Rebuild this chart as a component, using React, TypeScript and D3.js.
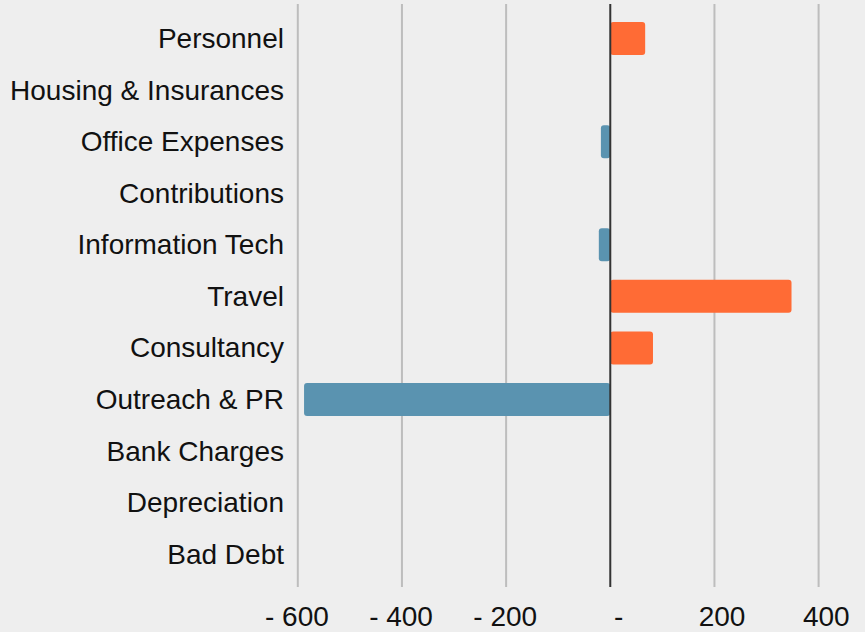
import React from "react";
import * as d3 from "d3";

const categories = [
  "Personnel",
  "Housing & Insurances",
  "Office Expenses",
  "Contributions",
  "Information Tech",
  "Travel",
  "Consultancy",
  "Outreach & PR",
  "Bank Charges",
  "Depreciation",
  "Bad Debt",
];
const values = [67, 0, -18, 0, -22, 348, 82, -588, 0, 0, 0];
const tickValues = [-600, -400, -200, 0, 200, 400];

const W = 865;
const H = 632;
const POS = "#FF6B35";
const NEG = "#5A93B0";
const FS = 28;

function fmt(v: number) {
  if (v === 0) return "-";
  if (v < 0) return "- " + Math.abs(v);
  return String(v);
}

export default function App() {
  const x = d3.scaleLinear().domain([-600, 400]).range([297.8, 818.6]);
  const y = d3
    .scaleBand<string>()
    .domain(categories)
    .range([12.7, 580])
    .paddingInner(0.36)
    .paddingOuter(0.18);
  const font = "Arial, 'Liberation Sans', sans-serif";
  return (
    <svg
      width={W}
      height={H}
      style={{ position: "absolute", left: 0, top: 0, background: "#EEEEEE" }}
    >
      <rect x={0} y={0} width={W} height={H} fill="#EEEEEE" />
      {tickValues
        .filter((t) => t !== 0)
        .map((t) => (
          <line
            key={t}
            x1={x(t)}
            x2={x(t)}
            y1={4}
            y2={587}
            stroke="#BDBDBD"
            strokeWidth={2}
          />
        ))}
      {categories.map((c, i) => {
        const v = values[i];
        if (v === 0) return null;
        const x0 = Math.min(x(0), x(v));
        const w = Math.abs(x(v) - x(0));
        return (
          <rect
            key={c}
            x={x0}
            y={y(c)}
            width={w}
            height={y.bandwidth()}
            rx={3}
            ry={3}
            fill={v > 0 ? POS : NEG}
          />
        );
      })}
      <line
        x1={x(0)}
        x2={x(0)}
        y1={4}
        y2={587}
        stroke="#333333"
        strokeWidth={2}
      />
      {categories.map((c) => (
        <text
          key={c}
          x={284}
          y={(y(c) as number) + y.bandwidth() / 2 + 9.5}
          textAnchor="end"
          fontFamily={font}
          fontSize={FS}
          fill="#111"
        >
          {c}
        </text>
      ))}
      {tickValues.map((t) => {
        // accounting-style labels: numbers right-aligned, zero shown as a dash
        const anchor = t === 0 ? "middle" : "end";
        const tx = t === 0 ? x(t) + 8.5 : x(t) + 31;
        return (
          <text
            key={t}
            x={tx}
            y={626}
            textAnchor={anchor}
            fontFamily={font}
            fontSize={FS}
            fill="#111"
          >
            {fmt(t)}
          </text>
        );
      })}
    </svg>
  );
}
